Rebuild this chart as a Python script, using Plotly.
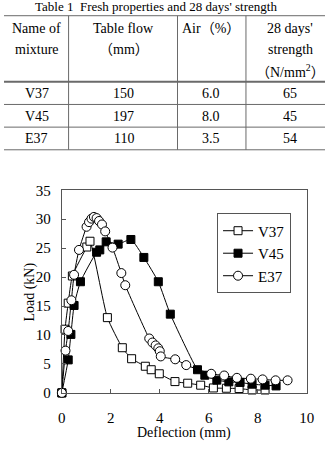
import plotly.graph_objects as go

# ---------------- data ----------------
table_title = "Table 1  Fresh properties and 28 days' strength"
header_col1 = ["Name of", "mixture"]
header_col2 = ["Table flow", "（mm）"]
header_col3 = ["Air（%）"]
header_col4 = ["28 days'", "strength", "（N/mm<sup>2</sup>）"]
mixtures = ["V37", "V45", "E37"]
table_flow = ["150", "197", "110"]
air = ["6.0", "8.0", "3.5"]
strength = ["65", "45", "54"]

v37_x = [0, 0.13, 0.26, 0.43, 1.02, 1.15, 1.86, 2.47, 2.85, 3.41, 3.65, 3.98, 4.62, 5.14, 5.67, 6.19, 6.72, 7.24, 7.77, 8.30]
v37_y = [0, 11.0, 15.5, 20.2, 25.2, 26.2, 13.0, 7.8, 5.9, 4.6, 4.0, 3.3, 1.95, 1.67, 1.33, 0.85, 0.8, 0.75, 0.5, 0.5]

v45_x = [0, 0.26, 0.37, 0.50, 0.76, 1.42, 1.55, 1.81, 2.30, 2.82, 3.35, 3.94, 4.43, 5.54, 5.84, 6.33, 6.82, 7.28, 7.77, 8.30, 8.75]
v45_y = [0, 5.7, 10.1, 15.1, 19.2, 24.3, 24.7, 26.1, 25.7, 26.5, 23.4, 19.2, 13.6, 4.0, 3.05, 2.2, 1.9, 1.8, 1.5, 1.33, 1.2]

e37_x = [0, 0.15, 0.26, 0.39, 0.50, 0.70, 1.01, 1.11, 1.21, 1.31, 1.42, 1.52, 1.64, 1.77, 2.07, 2.43, 2.59,
         3.57, 3.70, 3.83, 3.94, 4.00, 4.04, 4.63, 5.08, 6.10, 6.63, 7.15, 7.72, 8.20, 8.73, 9.22]
e37_y = [0, 7.3, 10.7, 16.0, 20.4, 24.7, 28.7, 29.5, 30.1, 30.4, 30.2, 29.7, 29.1, 27.9, 25.1, 20.7, 18.6,
         9.4, 8.7, 8.2, 7.7, 7.2, 6.3, 5.8, 4.8, 3.3, 3.0, 2.6, 2.45, 2.33, 2.17, 2.17]

x_ticks = [0, 2, 4, 6, 8, 10]
y_ticks = [0, 5, 10, 15, 20, 25, 30, 35]

# ---------------- layout helpers ----------------
W, H = 333, 452
FONT = "Liberation Serif, 'Noto Sans CJK JP', serif"

def px(x):
    return x / W

def py(y):
    return 1 - y / H

fig = go.Figure()

common = dict(mode="lines+markers", cliponaxis=False,
              line=dict(color="black", width=1, shape="spline", smoothing=0.5))

fig.add_trace(go.Scatter(x=v37_x, y=v37_y, name="V37",
                         marker=dict(symbol="square", size=8, color="white",
                                     line=dict(color="black", width=1)), **common))
fig.add_trace(go.Scatter(x=v45_x, y=v45_y, name="V45",
                         marker=dict(symbol="square", size=8, color="black",
                                     line=dict(color="black", width=1)), **common))
fig.add_trace(go.Scatter(x=e37_x, y=e37_y, name="E37",
                         marker=dict(symbol="circle", size=9, color="white",
                                     line=dict(color="black", width=1)), **common))

# ---------------- table ----------------
shapes = []
lc = "#6a6a6a"
for yy, w in [(8, 1), (76.5, 2), (100, 1), (123.5, 1), (147, 1)]:
    shapes.append(dict(type="line", xref="paper", yref="paper", x0=0, x1=1,
                       y0=py(yy), y1=py(yy), line=dict(color=lc, width=w)))
for xx in [67, 180, 251]:
    shapes.append(dict(type="line", xref="paper", yref="paper", x0=px(xx), x1=px(xx),
                       y0=py(8), y1=py(147), line=dict(color=lc, width=1)))

annotations = []

def add_text(text, x, y, size=14):
    annotations.append(dict(text=text, x=px(x), y=py(y), xref="paper", yref="paper",
                            showarrow=False, xanchor="center", yanchor="middle",
                            font=dict(family=FONT, size=size, color="black")))

# title, partly cut off by the top edge as in the source image
annotations.append(dict(text=table_title, x=px(158), y=py(-2), xref="paper", yref="paper",
                        showarrow=False, xanchor="center", yanchor="middle",
                        font=dict(family=FONT, size=13, color="black")))

col_x = [34, 124, 215, 297]
line_y = [21, 43, 65]
for col, lines in zip(col_x, [header_col1, header_col2, header_col3, header_col4]):
    for i, t in enumerate(lines):
        add_text(t, col, line_y[i])

row_y = [89, 112, 135]
for i in range(len(mixtures)):
    for col, vals in zip(col_x, [mixtures, table_flow, air, strength]):
        add_text(vals[i], col, row_y[i])

# axis titles
annotations.append(dict(text="Load (kN)", x=px(26), y=py(295), xref="paper", yref="paper",
                        showarrow=False, textangle=-90, xanchor="center", yanchor="middle",
                        font=dict(family=FONT, size=14, color="black")))
annotations.append(dict(text="Deflection (mm)", x=px(187), y=py(441), xref="paper", yref="paper",
                        showarrow=False, xanchor="center", yanchor="middle",
                        font=dict(family=FONT, size=14, color="black")))

axis_common = dict(showline=True, linecolor="#555", linewidth=1, mirror=True,
                   ticks="inside", ticklen=4, tickcolor="#555", showgrid=False,
                   zeroline=False, tickfont=dict(family=FONT, size=15, color="black"))

fig.update_layout(
    width=W, height=H, autosize=False,
    margin=dict(l=0, r=0, t=0, b=0),
    paper_bgcolor="white", plot_bgcolor="white",
    xaxis=dict(range=[0, 10], tickvals=x_ticks, domain=[px(60), px(314)],
               ticklabelstandoff=11, **axis_common),
    yaxis=dict(range=[0, 35], tickvals=y_ticks, domain=[py(399), py(189)],
               ticklabelstandoff=7, **axis_common),
    legend=dict(x=px(221), y=py(213), xanchor="left", yanchor="top",
                bordercolor="#555", borderwidth=1, bgcolor="white",
                font=dict(family=FONT, size=15, color="black"),
                tracegroupgap=0, itemwidth=30),
    shapes=shapes, annotations=annotations,
    showlegend=True,
)

fig.write_html("out.html")
